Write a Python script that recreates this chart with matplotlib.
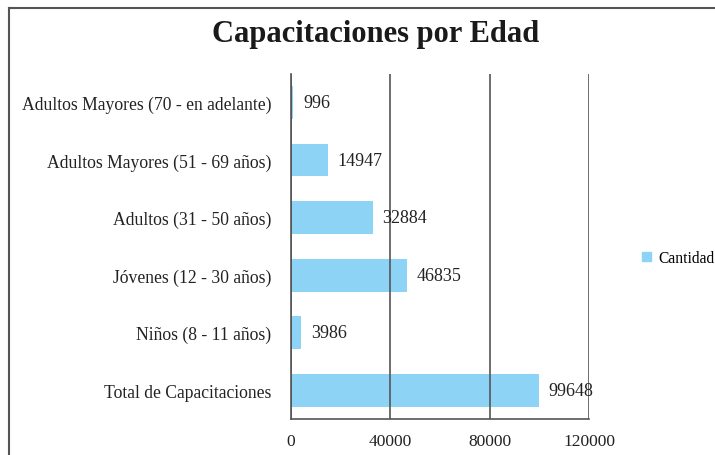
import matplotlib.pyplot as plt
from matplotlib.lines import Line2D
from matplotlib.patches import Patch

plt.rcParams['font.family'] = ['Liberation Serif', 'DejaVu Serif']

categorias = ['Total de Capacitaciones', 'Niños (8 - 11 años)', 'Jóvenes (12 - 30 años)',
              'Adultos (31 - 50 años)', 'Adultos Mayores (51 - 69 años)',
              'Adultos Mayores (70 - en adelante)']
cantidad = [99648, 3986, 46835, 32884, 14947, 996]
ticks_x = [0, 40000, 80000, 120000]

color_barra = '#8DD3F5'
gris = '#555555'

fig = plt.figure(figsize=(7.15, 4.56), dpi=100)
ax = fig.add_axes([0.407, 0.079, 0.417, 0.757])

ypos = range(len(categorias))
ax.barh(ypos, cantidad, height=0.57, color=color_barra, zorder=1)
for y, v in zip(ypos, cantidad):
    ax.annotate(str(v), (v, y), xytext=(7, 0), textcoords='offset points',
                va='center', ha='left', fontsize=13, color='#222222', zorder=3)

ax.set_xlim(0, 120000)
ax.set_ylim(-0.5, len(categorias) - 0.5)
ax.set_xticks(ticks_x)
ax.set_xticklabels([str(t) for t in ticks_x], fontsize=12.5, color='#222222')
ax.set_yticks(list(ypos))
ax.set_yticklabels(categorias, fontsize=12.7, color='#222222')
ax.tick_params(axis='both', length=0)
ax.tick_params(axis='y', pad=14)
ax.tick_params(axis='x', pad=10)

ax.grid(axis='x', color=gris, linewidth=1.2, zorder=2)
ax.set_axisbelow(False)
for s in ['top', 'right']:
    ax.spines[s].set_visible(False)
for s in ['left', 'bottom']:
    ax.spines[s].set_color(gris)
    ax.spines[s].set_linewidth(1.2)

fig.text(0.526, 0.925, 'Capacitaciones por Edad', ha='center', va='center',
         fontsize=22, fontweight='bold', color='#1a1a1a')

fig.legend(handles=[Patch(color=color_barra, label='Cantidad')],
           loc='center left', bbox_to_anchor=(0.88, 0.432), frameon=False,
           fontsize=11.2, handlelength=0.58, handleheight=0.58, handletextpad=0.5,
           borderpad=0.3)

# marco exterior
fig.add_artist(Line2D([0.012, 0.012], [0, 0.981], color=gris, linewidth=1.5))
fig.add_artist(Line2D([0.012, 1], [0.981, 0.981], color=gris, linewidth=1.5))

fig.savefig('out.png', dpi=100)
